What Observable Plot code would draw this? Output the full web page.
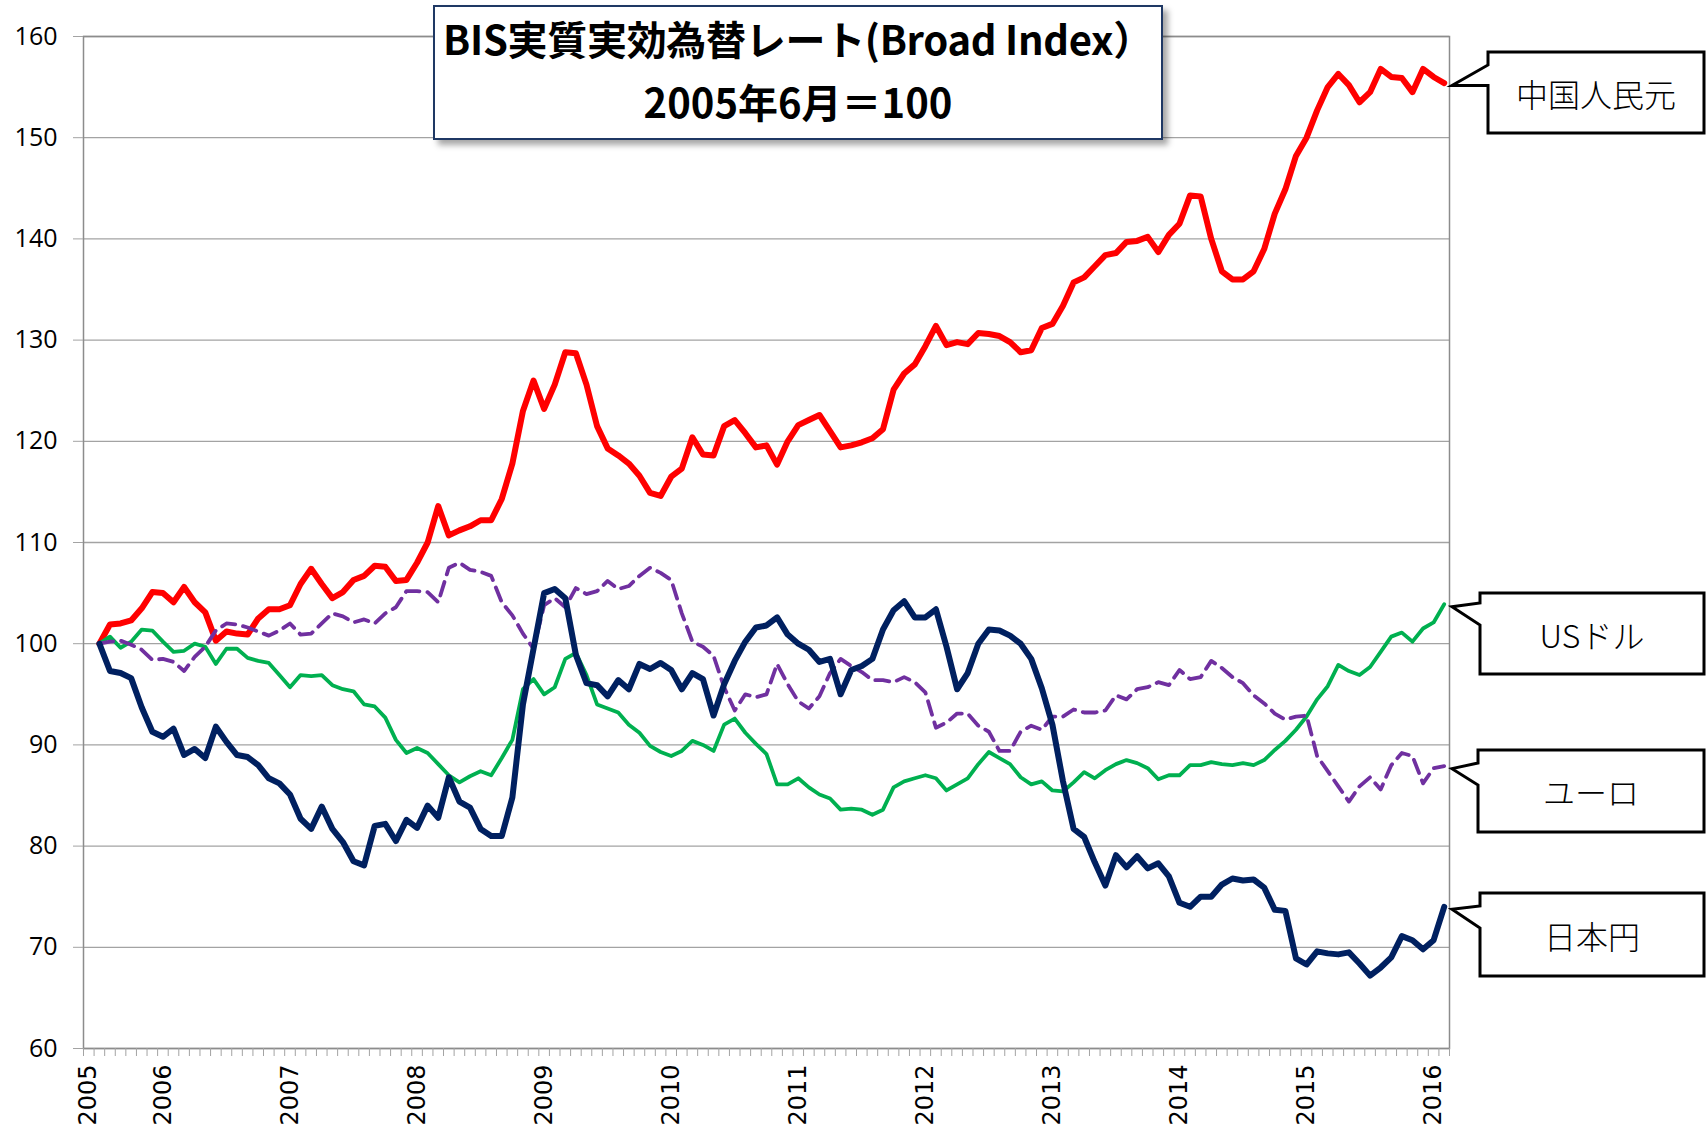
<!DOCTYPE html>
<html><head><meta charset="utf-8">
<script src="https://cdn.jsdelivr.net/npm/d3@7"></script>
<script src="https://cdn.jsdelivr.net/npm/@observablehq/plot@0.6"></script>
<style>
body{margin:0;background:#fff;}
#wrap{position:relative;width:1706px;height:1127px;overflow:hidden;background:#fff;}
#title{position:absolute;left:433px;top:5px;width:726px;height:131px;border:2px solid #1f3864;background:#fff;box-shadow:5px 5px 6px rgba(0,0,0,0.35);font-family:"Noto Sans CJK JP";font-weight:bold;color:#000;text-align:center;}
#title .l1{position:absolute;left:0;right:0;top:3px;font-size:40px;line-height:56px;white-space:nowrap;letter-spacing:-0.3px;}
#title .l2{position:absolute;left:0;right:0;top:66px;font-size:40px;line-height:56px;white-space:nowrap;padding-left:0;}
</style></head><body><div id="wrap"></div>
<script>
// ---- data (monthly, 2005-06 = 100) ----
const months = d3.timeMonth.range(new Date(2005, 5, 1), new Date(2016, 2, 1)).map(d3.timeFormat("%Y-%m"));
const cny = [100,101.9,102.0,102.3,103.5,105.1,105.0,104.1,105.6,104.1,103.1,100.3,101.2,101.0,100.9,102.5,103.4,103.4,103.8,105.9,107.4,105.9,104.5,105.1,106.3,106.7,107.7,107.6,
106.2,106.3,108.0,110.0,113.6,110.7,111.2,111.6,112.2,112.2,114.3,117.8,123.0,126.0,123.2,125.6,128.8,128.7,125.6,121.5,119.3,118.6,117.8,116.6,114.9,114.6,116.5,
117.3,120.4,118.7,118.6,121.5,122.1,120.8,119.4,119.6,117.7,120.0,121.6,122.1,122.6,121.0,119.4,119.6,119.9,120.3,121.2,125.1,126.7,127.6,129.4,131.4,129.5,129.8,
129.6,130.7,130.6,130.4,129.8,128.8,129.0,131.2,131.6,133.4,135.7,136.2,137.3,138.4,138.6,139.7,139.8,140.2,138.7,140.4,141.5,144.3,144.2,140.0,
136.8,136.0,136.0,136.8,139.0,142.5,144.9,148.2,150.0,152.7,155.0,156.3,155.2,153.5,154.5,156.8,156.0,155.9,154.5,156.8,156.0,155.4];
const usd = [100,100.7,99.6,100.2,101.4,101.3,100.2,99.2,99.3,100.0,99.7,98.0,99.5,99.5,98.6,98.3,98.1,96.9,95.7,96.9,96.8,96.9,95.9,95.5,95.3,94.0,93.8,92.7,
90.5,89.2,89.7,89.2,88.1,87.0,86.3,86.9,87.4,87.0,88.7,90.5,95.5,96.5,95.0,95.7,98.5,99.1,96.9,94.0,93.6,93.2,92.0,91.2,89.9,89.3,88.9,
89.4,90.4,90.0,89.4,92.0,92.6,91.2,90.1,89.1,86.1,86.1,86.7,85.8,85.1,84.7,83.6,83.7,83.6,83.1,83.6,85.8,86.4,86.7,87.0,86.7,85.5,86.1,
86.7,88.1,89.3,88.7,88.1,86.8,86.1,86.4,85.5,85.4,86.3,87.3,86.7,87.5,88.1,88.5,88.2,87.7,86.6,87.0,87.0,88.0,88.0,88.3,
88.1,88.0,88.2,88.0,88.5,89.5,90.4,91.5,92.8,94.5,95.8,97.9,97.3,96.9,97.7,99.2,100.7,101.1,100.2,101.5,102.1,103.9];
const eur = [100,100.2,100.3,99.9,99.4,98.4,98.5,98.2,97.3,98.7,99.7,101.3,102.0,101.9,101.6,101.2,100.8,101.3,102.0,100.9,101.0,102.0,103.0,102.7,102.1,102.4,102.0,103.0,
103.6,105.2,105.2,105.1,104.1,107.5,108.0,107.3,107.1,106.7,104.1,102.8,101.0,99.5,103.8,104.5,103.6,105.5,104.9,105.2,106.2,105.4,105.7,106.7,107.5,107.0,106.3,
103.0,100.2,99.7,98.8,95.7,93.4,95.0,94.7,95.0,98.0,96.0,94.3,93.6,94.8,97.1,98.5,97.8,97.2,96.4,96.4,96.2,96.7,96.2,95.2,91.7,92.2,93.1,
93.1,91.9,91.3,89.4,89.4,91.3,91.9,91.5,92.8,92.8,93.5,93.2,93.2,93.4,94.9,94.5,95.5,95.7,96.2,95.9,97.4,96.5,96.7,98.3,
97.6,96.7,96.1,94.9,94.1,93.1,92.5,92.8,92.9,88.9,87.4,85.9,84.4,85.9,86.8,85.6,88.0,89.2,88.9,86.2,87.7,87.9];
const jpy = [100,97.3,97.1,96.6,93.7,91.3,90.8,91.6,89.0,89.6,88.7,91.8,90.3,89.0,88.8,88.0,86.7,86.2,85.1,82.7,81.7,83.9,81.7,80.4,78.5,78.1,82.0,82.2,
80.5,82.6,81.8,84.0,82.8,86.8,84.4,83.8,81.7,81.0,81.0,84.8,94.0,99.5,105.0,105.4,104.5,98.9,96.1,95.9,94.8,96.4,95.5,98.0,97.5,98.1,97.4,
95.5,97.1,96.5,92.9,96.0,98.3,100.2,101.6,101.8,102.6,100.9,100.0,99.4,98.2,98.5,95.0,97.4,97.8,98.5,101.4,103.3,104.2,102.6,102.6,103.4,99.7,95.5,
97.1,100.0,101.4,101.3,100.8,100.0,98.5,95.6,92.0,86.4,81.7,80.9,78.4,76.1,79.1,77.9,79.0,77.8,78.3,77.0,74.4,74.0,75.0,75.0,
76.2,76.8,76.6,76.7,75.9,73.7,73.6,68.9,68.3,69.6,69.4,69.3,69.5,68.4,67.2,68.0,69.0,71.1,70.7,69.8,70.7,74.0];
const seriesNames = ["中国人民元", "USドル", "ユーロ", "日本円"];
const yearLabels = ["2005","2006","2007","2008","2009","2010","2011","2012","2013","2014","2015","2016"];
const yearTickIndex = [-1,6,18,30,42,54,66,78,90,102,114,126];
const yTicks = [60,70,80,90,100,110,120,130,140,150,160];

const rows = (vals) => vals.map((v, i) => ({i, month: months[i], v}));

const chart = Plot.plot({
  width: 1706, height: 1127,
  marginLeft: 83, marginRight: 257, marginTop: 36, marginBottom: 79,
  style: {background: "#fff", color: "#000", overflow: "visible"},
  x: {domain: [-1.5, 127.5]},
  y: {domain: [60, 160]},
  marks: [
    Plot.gridY(yTicks, {stroke: "#a3a3a3", strokeOpacity: 1, strokeWidth: 1.3}),
    Plot.frame({stroke: "#8c8c8c", strokeWidth: 1.5}),
    Plot.axisY(yTicks, {tickSize: 10, tickPadding: 16, stroke: "#a3a3a3", fill: "#000", fontSize: 25, fontFamily: "Open Sans", label: null}),
    Plot.axisX(d3.range(-1.5, 128, 1), {tickSize: 8, tickFormat: () => "", stroke: "#a3a3a3", label: null}),
    Plot.axisX(yearTickIndex, {tickSize: 0, tickPadding: 16, tickRotate: -90, tickFormat: (d) => yearLabels[yearTickIndex.indexOf(d)], fill: "#000", fontSize: 24, fontFamily: "DejaVu Sans", label: null}),
    Plot.line(rows(cny), {x: "i", y: "v", stroke: "#ff0000", strokeWidth: 6, strokeLinejoin: "round"}),
    Plot.line(rows(usd), {x: "i", y: "v", stroke: "#00b050", strokeWidth: 3.8, strokeLinejoin: "round"}),
    Plot.line(rows(eur), {x: "i", y: "v", stroke: "#7030a0", strokeWidth: 3.8, strokeDasharray: "14,8", strokeLinejoin: "round"}),
    Plot.line(rows(jpy), {x: "i", y: "v", stroke: "#002060", strokeWidth: 6, strokeLinejoin: "round"})
  ]
});

const wrap = document.getElementById("wrap");
wrap.appendChild(chart);

// callouts pointing at each series' last value
const xs = chart.scale("x"), ys = chart.scale("y");
const lastVals = [cny, usd, eur, jpy].map(a => a[a.length - 1]);
const boxes = [
  {left: 1488, top: 52, bottom: 133, w1: 65},
  {left: 1480, top: 593, bottom: 674, w1: 603},
  {left: 1478, top: 750, bottom: 832, w1: 763},
  {left: 1480, top: 893, bottom: 976, w1: 906}
];
const svg = d3.select(chart);
const g = svg.append("g");
boxes.forEach((b, k) => {
  const tipX = xs.apply(127.5) + 3;
  const tipY = ys.apply(lastVals[k]) + 3;
  const w2 = k === 0 ? tipY : b.w1 + 22;
  const right = 1704;
  g.append("path")
    .attr("d", `M${b.left},${b.top}H${right}V${b.bottom}H${b.left}V${w2}L${tipX},${tipY}L${b.left},${b.w1}Z`)
    .attr("fill", "#fff").attr("stroke", "#000").attr("stroke-width", 3).attr("stroke-linejoin", "miter");
  g.append("text")
    .attr("x", (b.left + right) / 2).attr("y", (b.top + b.bottom) / 2)
    .attr("text-anchor", "middle").attr("dominant-baseline", "central")
    .attr("font-family", "Noto Sans CJK JP").attr("font-size", 32).attr("font-weight", 300)
    .attr("fill", "#000").text(seriesNames[k]);
});

// title box
const t = document.createElement("div");
t.id = "title";
t.innerHTML = '<div class="l1">BIS実質実効為替レート(Broad Index）</div><div class="l2">2005年6月＝100</div>';
wrap.appendChild(t);
</script>
</body></html>
